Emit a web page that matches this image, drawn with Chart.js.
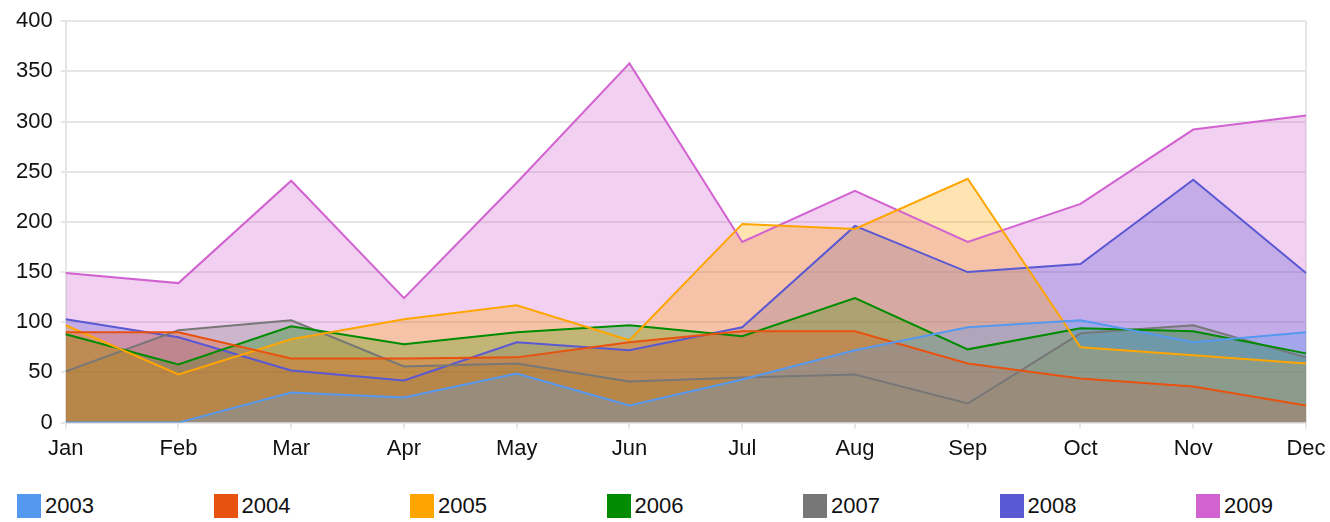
<!DOCTYPE html>
<html>
<head>
<meta charset="utf-8">
<script src="https://cdn.jsdelivr.net/npm/chart.js@4"></script>
<style>
    body { margin: 0; background: #fff; font-family: "Liberation Sans", Arial, sans-serif; }
    #wrap { position: relative; width: 1330px; height: 522px; }
    #legend { position: absolute; left: 17px; top: 494px; display: flex; }
    .item { width: 196.5px; display: flex; align-items: center; height: 24px; }
    .box { width: 24px; height: 24px; margin-right: 4px; }
    .item span { font-size: 22px; color: #111; line-height: 24px; }
</style>
</head>
<body>
<div id="wrap">
    <canvas id="area-chart" width="1330" height="469"></canvas>
    <div id="legend"></div>
</div>
<script>
var months = ["Jan", "Feb", "Mar", "Apr", "May", "Jun", "Jul", "Aug", "Sep", "Oct", "Nov", "Dec"]
var years = ["2003", "2004", "2005", "2006", "2007", "2008", "2009"]
var yTicks = [0, 50, 100, 150, 200, 250, 300, 350, 400]

var y2003 = [0, 0, 30, 25, 49, 17, 43, 72, 95, 102, 80, 90]
var y2004 = [90, 90, 64, 64, 65, 80, 91, 91, 59, 44, 36, 17]
var y2005 = [97, 48, 83, 103, 117, 82, 198, 193, 243, 75, 67, 59]
var y2006 = [88, 58, 96, 78, 90, 97, 86, 124, 73, 94, 91, 69]
var y2007 = [51, 92, 102, 56, 59, 41, 45, 48, 19, 89, 97, 65]
var y2008 = [103, 85, 52, 42, 80, 72, 95, 196, 150, 158, 242, 149]
var y2009 = [149, 139, 241, 124, 239, 358, 180, 231, 180, 218, 292, 306]

var series = [y2003, y2004, y2005, y2006, y2007, y2008, y2009]
var colors = ["#5598ef", "#e8520f", "#ffa500", "#008c00", "#777777", "#5a58d3", "#d262d0"]

var gridColor = "#e6e6e6"

// convert hex colour to rgba with alpha
function fade(hex, a) {
    var r = parseInt(hex.substr(1, 2), 16)
    var g = parseInt(hex.substr(3, 2), 16)
    var b = parseInt(hex.substr(5, 2), 16)
    return "rgba(" + r + ", " + g + ", " + b + ", " + a + ")"
}

var datasets = []
for (var i = 0; i < years.length; i++) {
    datasets.push({
        label: years[i],
        data: series[i],
        borderColor: colors[i],
        backgroundColor: fade(colors[i], 0.3),
        borderWidth: 2,
        pointRadius: 0,
        tension: 0,
        fill: "origin"
    })
}

const areaConfig = {
    type: "line",
    data: {
        labels: months,
        datasets: datasets
    },
    options: {
        responsive: false,
        animation: false,
        layout: {
            padding: { left: 8, right: 24, top: 20, bottom: 0 }
        },
        scales: {
            x: {
                offset: false,
                // let "Dec" hang into the right padding
                afterFit: function (axis) { axis.paddingRight = 0 },
                grid: {
                    color: function (ctx) { return ctx.index === months.length - 1 ? gridColor : "rgba(0,0,0,0)" },
                    tickColor: gridColor,
                    lineWidth: 2,
                    tickLength: 6
                },
                border: { display: true, color: gridColor, width: 2 },
                ticks: {
                    color: "#111",
                    padding: 7,
                    maxRotation: 0,
                    font: { family: "Liberation Sans", size: 22 }
                }
            },
            y: {
                min: 0,
                max: 400,
                afterBuildTicks: function (axis) {
                    axis.ticks = yTicks.map(function (v) { return { value: v } })
                },
                grid: {
                    color: gridColor,
                    lineWidth: 2,
                    tickLength: 5
                },
                border: { display: true, color: gridColor, width: 2 },
                ticks: {
                    color: "#111",
                    padding: 8,
                    font: { family: "Liberation Sans", size: 22 }
                }
            }
        },
        plugins: {
            legend: { display: false },
            tooltip: { enabled: false },
            filler: { drawTime: "beforeDatasetsDraw" }
        }
    }
};

var areaChart = new Chart(document.getElementById("area-chart"), areaConfig)

// html legend built from the chart datasets
var legendBox = document.getElementById("legend")
areaChart.data.datasets.forEach(function (ds) {
    var item = document.createElement("div")
    item.className = "item"
    var box = document.createElement("div")
    box.className = "box"
    box.style.background = ds.borderColor
    var txt = document.createElement("span")
    txt.textContent = ds.label
    item.appendChild(box)
    item.appendChild(txt)
    legendBox.appendChild(item)
})
</script>
</body>
</html>
